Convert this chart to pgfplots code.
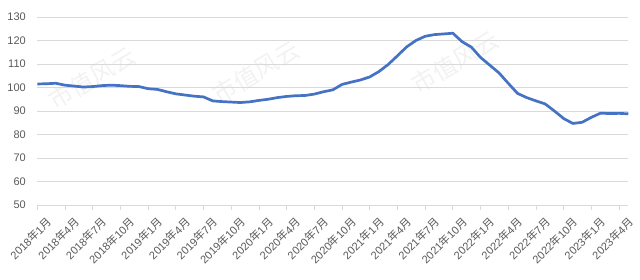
\documentclass[border=0pt]{standalone}
\usepackage{pgfplots}
\pgfplotsset{compat=1.18}
\usepackage{fontspec}
\setmainfont{Liberation Sans}
\newfontfamily\cjk{Noto Sans CJK SC}
\definecolor{linecol}{RGB}{68,114,196}
\definecolor{gridcol}{RGB}{217,217,217}
\definecolor{labcol}{RGB}{89,89,89}
\newcommand{\ym}[2]{#1{\cjk 年}#2{\cjk 月}}
\pgfplotstableread{
i v
0 101.5
1 101.6
2 101.8
3 101.0
4 100.6
5 100.2
6 100.4
7 100.8
8 101.0
9 100.8
10 100.5
11 100.4
12 99.5
13 99.2
14 98.2
15 97.3
16 96.8
17 96.3
18 96.0
19 94.3
20 94.0
21 93.8
22 93.6
23 93.9
24 94.5
25 95.0
26 95.7
27 96.2
28 96.5
29 96.6
30 97.2
31 98.2
32 99.0
33 101.3
34 102.3
35 103.2
36 104.5
37 106.8
38 109.8
39 113.5
40 117.3
41 120.0
42 121.8
43 122.5
44 122.8
45 123.1
46 119.5
47 117.2
48 112.8
49 109.5
50 106.2
51 101.8
52 97.5
53 95.7
54 94.3
55 93.0
56 90.0
57 86.8
58 84.7
59 85.2
60 87.3
61 89.1
62 88.9
63 89.0
64 88.8
}\datatable
\begin{document}
\begin{tikzpicture}
\begin{scope}[shift={(-37.3bp,-75bp)}]
\foreach \x/\y in {92/78, 256/72, 455/62}{
  \node[text=black!5, rotate=31, font=\cjk\fontsize{24bp}{26bp}\selectfont] at (\x bp, 280bp-\y bp) {市值风云};
}
\end{scope}
\begin{axis}[
  name=ax, at={(0,0)}, anchor=south west,
  scale only axis, width=591bp, height=188bp,
  xmin=0, xmax=64, ymin=50, ymax=130,
  ytick={50,60,...,130},
  xtick={0,3,...,63},
  xticklabels={\ym{2018}{1},\ym{2018}{4},\ym{2018}{7},\ym{2018}{10},
    \ym{2019}{1},\ym{2019}{4},\ym{2019}{7},\ym{2019}{10},
    \ym{2020}{1},\ym{2020}{4},\ym{2020}{7},\ym{2020}{10},
    \ym{2021}{1},\ym{2021}{4},\ym{2021}{7},\ym{2021}{10},
    \ym{2022}{1},\ym{2022}{4},\ym{2022}{7},\ym{2022}{10},
    \ym{2023}{1},\ym{2023}{4}},
  axis x line*=bottom, axis y line*=left,
  x axis line style={draw=gridcol, line width=0.8bp, -},
  y axis line style={draw=none},
  ytick style={draw=none},
  xtick style={draw=gridcol, line width=0.8bp},
  tick align=outside, major tick length=5bp,
  ymajorgrids, grid style={draw=gridcol, line width=0.8bp},
  /pgf/number format/assume math mode=true,
  yticklabel style={font=\fontsize{11bp}{13bp}\selectfont, text=labcol, xshift=-3bp},
  xticklabel style={font=\fontsize{11bp}{13bp}\selectfont, text=labcol, rotate=45, anchor=north east, xshift=5bp, yshift=-7bp},
]
\addplot[linecol, line width=2.7bp, line join=round, mark=none] table[x=i, y=v] {\datatable};
\end{axis}
\pgfresetboundingbox
\path (-37.3bp,-75bp) rectangle (602.7bp,205bp);
\end{tikzpicture}
\end{document}
